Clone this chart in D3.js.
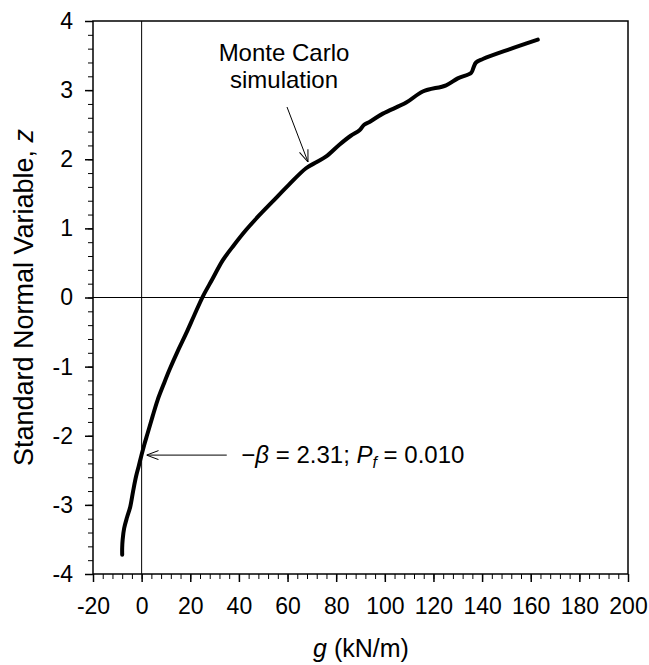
<!DOCTYPE html>
<html>
<head>
<meta charset="utf-8">
<script src="https://cdn.jsdelivr.net/npm/d3@7"></script>
<style>
  body { margin: 0; background: #fff; }
  text { font-family: "Liberation Sans", Arial, sans-serif; fill: #000; }
</style>
</head>
<body>
<div id="chart"></div>
<script>
// Monte Carlo curve
const gValues = [-8.0, -8.0, -7.8, -7.2, -6.0, -4.7, -3.5, -2.3, -1.2, -0.2, 1.0, 2.5, 4.5, 6.6, 9.0, 11.4,
                 14.8, 18.3, 21.6, 25.1, 29.0, 33.4, 38.0, 43.0, 48.4, 53.9, 60.5, 67.6, 72.0, 75.9, 81.3,
                 86.0, 89.6, 91.5, 93.7, 99.2, 108.8, 115.6, 125.2, 130.0, 135.5, 136.5, 137.5, 140.3, 151.2, 162.9];
const zValues = [-3.72, -3.62, -3.50, -3.34, -3.18, -3.03, -2.80, -2.59, -2.44, -2.30, -2.14, -1.96, -1.72, -1.48, -1.26, -1.05,
                 -0.78, -0.52, -0.26, 0.01, 0.26, 0.54, 0.76, 0.98, 1.19, 1.39, 1.63, 1.87, 1.96, 2.04, 2.21,
                 2.34, 2.42, 2.50, 2.54, 2.66, 2.82, 2.98, 3.07, 3.17, 3.25, 3.33, 3.40, 3.45, 3.59, 3.73];

const xMajorTicks = [-20, 0, 20, 40, 60, 80, 100, 120, 140, 160, 180, 200];
const yMajorTicks = [-4, -3, -2, -1, 0, 1, 2, 3, 4];
const xTitle = "(kN/m)";
const yTitle = "Standard Normal Variable, ";
const mcLabel = ["Monte Carlo", "simulation"];

const width = 649, height = 665;
const margin = {top: 21, right: 21, bottom: 91, left: 93};
const plotW = width - margin.left - margin.right;
const plotH = height - margin.top - margin.bottom;
const tickFont = 23, titleFont = 25, noteFont = 24;

const svg = d3.select("#chart").append("svg")
    .attr("width", width)
    .attr("height", height);

const x = d3.scaleLinear().domain([-20, 200]).range([0, plotW]);
const y = d3.scaleLinear().domain([-4, 4]).range([plotH, 0]);

const g = svg.append("g")
    .attr("transform", "translate(" + margin.left + "," + margin.top + ")");

// arrow head, open
svg.append("defs").append("marker")
    .attr("id", "arrow")
    .attr("viewBox", "0 0 12 10")
    .attr("refX", 12).attr("refY", 5)
    .attr("markerWidth", 12).attr("markerHeight", 10)
    .attr("markerUnits", "userSpaceOnUse")
    .attr("orient", "auto")
    .append("path")
    .attr("d", "M0,0.5 L12,5 L0,9.5")
    .attr("fill", "none")
    .attr("stroke", "#000")
    .attr("stroke-width", 1);

// reference lines at g = 0 and z = 0
g.append("line")
    .attr("x1", x(0)).attr("x2", x(0))
    .attr("y1", 0).attr("y2", plotH)
    .attr("stroke", "#000").attr("stroke-width", 1);
g.append("line")
    .attr("x1", 0).attr("x2", plotW)
    .attr("y1", y(0)).attr("y2", y(0))
    .attr("stroke", "#000").attr("stroke-width", 1);

// frame
g.append("rect")
    .attr("width", plotW).attr("height", plotH)
    .attr("fill", "none").attr("stroke", "#000").attr("stroke-width", 1.5);

// minor ticks
const xMinor = d3.range(-20, 200.1, 4);
const yMinor = d3.range(-4, 4.01, 0.2);

g.append("g")
    .attr("transform", "translate(0," + plotH + ")")
    .call(d3.axisBottom(x).tickValues(xMinor).tickSize(5).tickFormat(""))
    .call(a => a.select(".domain").remove());
g.append("g")
    .call(d3.axisLeft(y).tickValues(yMinor).tickSize(5).tickFormat(""))
    .call(a => a.select(".domain").remove());

// major ticks + labels
const xAxis = g.append("g")
    .attr("transform", "translate(0," + plotH + ")")
    .call(d3.axisBottom(x).tickValues(xMajorTicks).tickSize(8).tickPadding(16).tickFormat(d => String(d)));
const yAxis = g.append("g")
    .call(d3.axisLeft(y).tickValues(yMajorTicks).tickSize(8).tickPadding(12).tickFormat(d => String(d)));

[xAxis, yAxis].forEach(a => {
    a.select(".domain").remove();
    a.selectAll("line").attr("stroke-width", 1.5);
    a.selectAll("text").attr("font-size", tickFont).attr("font-family", "Liberation Sans, Arial, sans-serif").attr("fill", "#000");
});
g.selectAll(".tick line").attr("stroke", "#000");

// curve
const pts = gValues.map((v, i) => [v, zValues[i]]);
const line = d3.line()
    .x(d => x(d[0]))
    .y(d => y(d[1]))
    .curve(d3.curveCatmullRom.alpha(0.5));

g.append("path")
    .datum(pts)
    .attr("d", line)
    .attr("fill", "none")
    .attr("stroke", "#000")
    .attr("stroke-width", 4)
    .attr("stroke-linejoin", "round")
    .attr("stroke-linecap", "round");

// Monte Carlo annotation
const mc = svg.append("text")
    .attr("text-anchor", "middle")
    .attr("font-size", noteFont);
mc.selectAll("tspan").data(mcLabel).enter().append("tspan")
    .attr("x", 284)
    .attr("y", (d, i) => 61 + i * 27)
    .text(d => d);

svg.append("line")
    .attr("x1", 287).attr("y1", 107)
    .attr("x2", 308).attr("y2", 162)
    .attr("stroke", "#000").attr("stroke-width", 1)
    .attr("marker-end", "url(#arrow)");

// beta annotation
g.append("line")
    .attr("x1", x(35)).attr("y1", y(-2.28))
    .attr("x2", x(2)).attr("y2", y(-2.28))
    .attr("stroke", "#000").attr("stroke-width", 1)
    .attr("marker-end", "url(#arrow)");

const bt = g.append("text")
    .attr("x", x(41))
    .attr("y", y(-2.28) + 8)
    .attr("font-size", noteFont);
bt.append("tspan").text("\u2212");
bt.append("tspan").attr("font-style", "italic").text("\u03B2");
bt.append("tspan").text(" = 2.31; ");
bt.append("tspan").attr("font-style", "italic").text("P");
bt.append("tspan").attr("font-style", "italic").attr("font-size", 16).attr("dy", 5).text("f");
bt.append("tspan").attr("dy", -5).text(" = 0.010");

// axis titles
const xt = svg.append("text")
    .attr("x", 361)
    .attr("y", 657)
    .attr("text-anchor", "middle")
    .attr("font-size", titleFont);
xt.append("tspan").attr("font-style", "italic").text("g");
xt.append("tspan").text(" " + xTitle);

const yt = svg.append("text")
    .attr("transform", "translate(33," + (margin.top + y(0)) + ") rotate(-90)")
    .attr("text-anchor", "middle")
    .attr("font-size", 27);
yt.append("tspan").text(yTitle);
yt.append("tspan").attr("font-style", "italic").text("z");
</script>
</body>
</html>
